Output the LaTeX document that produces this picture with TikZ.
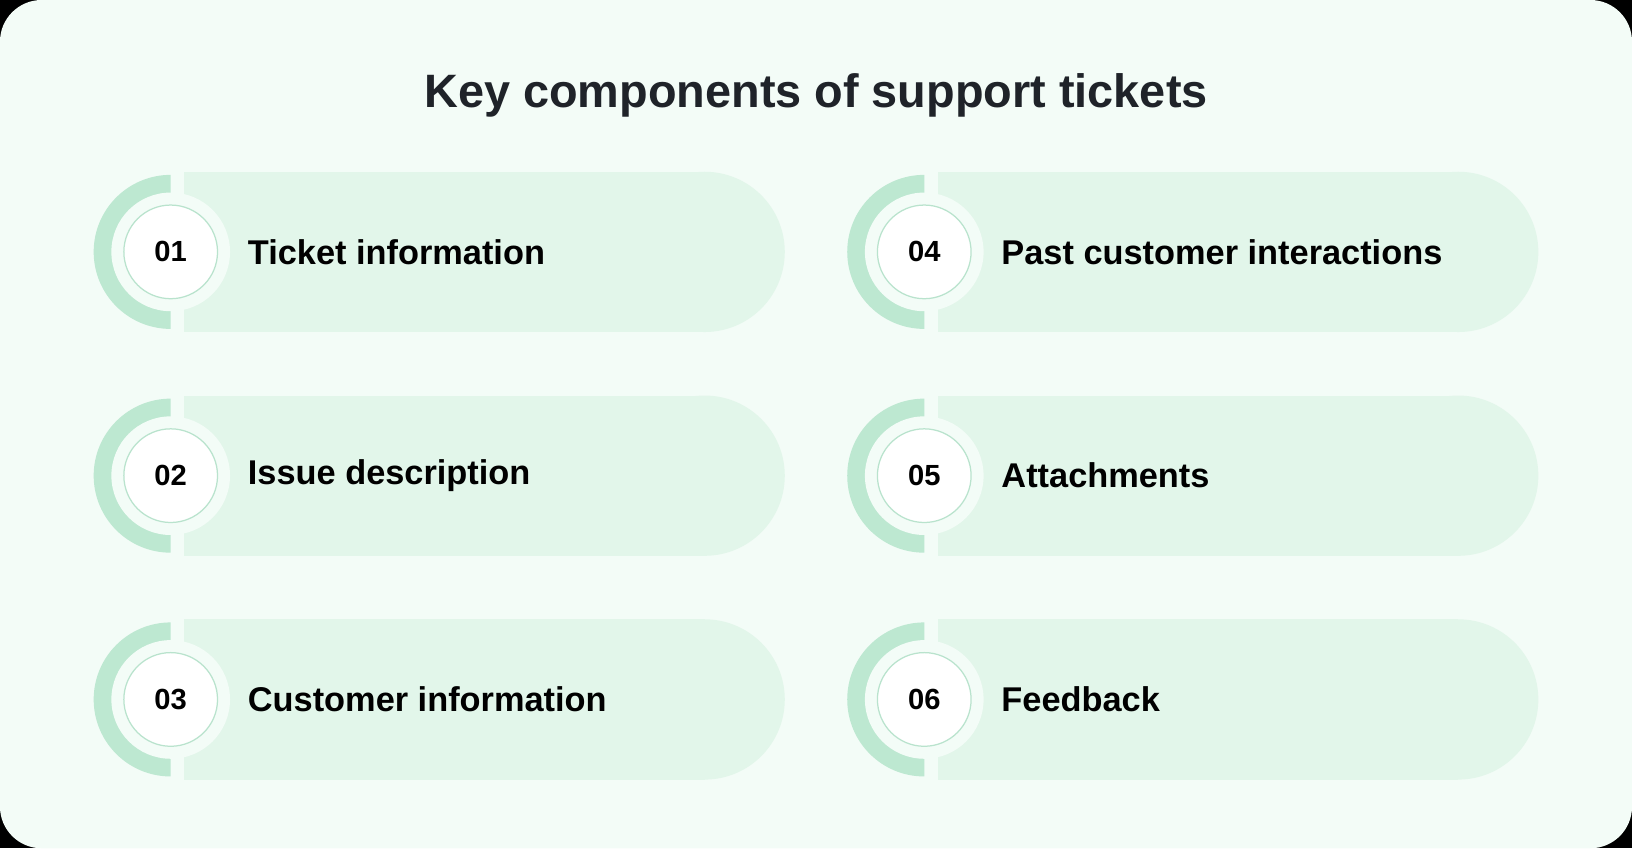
\documentclass[tikz,border=0pt]{standalone}
\usepackage{fontspec}
\setmainfont{Liberation Sans}
\definecolor{bg}{HTML}{F3FCF7}
\definecolor{pill}{HTML}{E2F6EA}
\definecolor{arcc}{HTML}{BDE8D1}
\definecolor{ring}{HTML}{B9E3CD}
\definecolor{ttl}{HTML}{1F2329}
\begin{document}
\begin{tikzpicture}[x=1pt,y=-1pt,
  lbl/.style={font=\fontsize{33}{40}\selectfont\bfseries, text=black, anchor=west, inner sep=0},
  num/.style={circle, minimum size=90pt, fill=white, draw=ring, line width=1.2pt, font=\fontsize{28}{34}\selectfont\bfseries, inner sep=0}]
\fill[black] (0,0) rectangle (1568,815);
\fill[bg, rounded corners=40pt] (0,0) rectangle (1568,815);
\useasboundingbox (0,0) rectangle (1568,815);
\node[font=\fontsize{45}{54}\selectfont\bfseries, text=ttl] (title) at (784,92) {Key components of support tickets};
\foreach \i/\cx/\cy/\t in {01/164/242/Ticket information, 02/164/457/Issue description, 03/164/672/Customer information, 04/888/242/Past customer interactions, 05/888/457/Attachments, 06/888/672/Feedback}{
  \fill[pill] (\cx+13,\cy-77) rectangle (\cx+513,\cy+77);
  \fill[pill] (\cx+513,\cy) circle[radius=77];
  \begin{scope}
    \clip (\cx-80,\cy-80) rectangle (\cx,\cy+80);
    \fill[arcc] (\cx,\cy) circle[radius=74];
  \end{scope}
  \fill[bg] (\cx,\cy) circle[radius=57];
  \node[num] (n\i) at (\cx,\cy) {\i};
  \node[lbl] (t\i) at (\cx+74,\cy) {\t};
}
\end{tikzpicture}
\end{document}
